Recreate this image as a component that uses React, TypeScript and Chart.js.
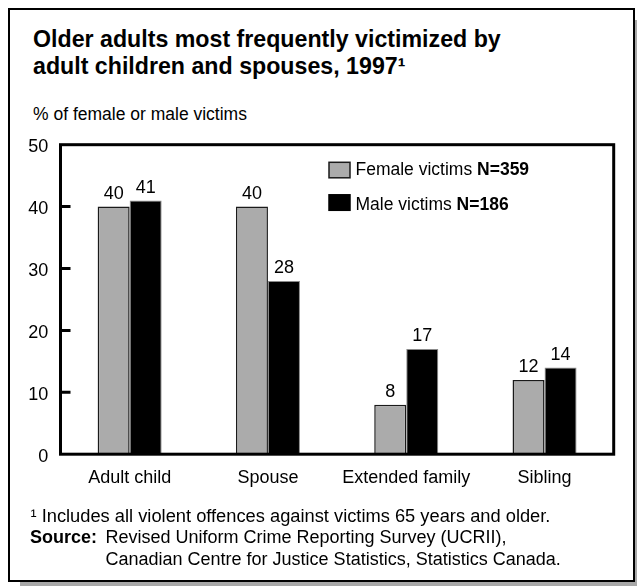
import React, { useEffect, useRef } from "react";
import { Chart, registerables } from "chart.js";

Chart.register(...registerables);

// Relationship of accused to victim
const categories = ["Adult child", "Spouse", "Extended family", "Sibling"];
// % of female / male victims
const femaleValues = [40, 40, 8, 12];
const maleValues = [41, 28, 17, 14];
const yTickValues = [0, 10, 20, 30, 40, 50];
const innerTickValues = [10, 20, 30, 40];

const femaleLabel = "Female victims";
const femaleN = "N=359";
const maleLabel = "Male victims";
const maleN = "N=186";

const titleLines = [
  "Older adults most frequently victimized by",
  "adult children and spouses, 1997\u00B9",
];
const subtitle = "% of female or male victims";
const footnote = "\u00B9 Includes all violent offences against victims 65 years and older.";
const sourceLabel = "Source:";
const sourceLines = [
  "Revised Uniform Crime Reporting Survey (UCRII),",
  "Canadian Centre for Justice Statistics, Statistics Canada.",
];

const FONT = '"Liberation Sans", Arial, Helvetica, sans-serif';
const W = 637;
const H = 586;
const FEMALE_FILL = "#ababab";
const MALE_FILL = "#000000";

// plot-area placement inside the canvas
const AREA = { left: 60.5, top: 144.7, right: 613.7, bottom: 454.2 };
const X_AXIS_H = 40;

const decorPlugin = {
  id: "decor",
  afterDatasetsDraw(chart: any) {
    const { ctx, chartArea, scales } = chart;
    const x = scales.x;
    const y = scales.y;
    ctx.save();

    // frame around the plot area
    ctx.strokeStyle = "#000";
    ctx.lineWidth = 3;
    ctx.strokeRect(
      chartArea.left,
      chartArea.top,
      chartArea.right - chartArea.left,
      chartArea.bottom - chartArea.top
    );

    // inward tick marks on the value axis
    ctx.beginPath();
    innerTickValues.forEach((v) => {
      const py = y.getPixelForValue(v);
      ctx.moveTo(chartArea.left, py);
      ctx.lineTo(chartArea.left + 10, py);
    });
    ctx.stroke();

    ctx.fillStyle = "#000";
    ctx.font = `18px ${FONT}`;
    ctx.textBaseline = "alphabetic";

    // value axis labels
    ctx.textAlign = "right";
    yTickValues.forEach((v) => {
      ctx.fillText(String(v), chartArea.left - 12.2, y.getPixelForValue(v) + 7.3);
    });

    // category labels
    ctx.textAlign = "center";
    categories.forEach((c, i) => {
      ctx.fillText(c, x.getPixelForValue(i), chartArea.bottom + 29);
    });

    // value labels above the bars
    chart.data.datasets.forEach((ds: any, di: number) => {
      const meta = chart.getDatasetMeta(di);
      meta.data.forEach((bar: any, i: number) => {
        ctx.fillText(String(ds.data[i]), bar.x, bar.y - 7.5);
      });
    });

    // legend
    const legendItems = [
      { fill: FEMALE_FILL, stroke: "#1a1a1a", label: femaleLabel, n: femaleN, boxTop: 162.3, base: 175.3 },
      { fill: MALE_FILL, stroke: "#000", label: maleLabel, n: maleN, boxTop: 194.8, base: 210.2 },
    ];
    ctx.textAlign = "left";
    legendItems.forEach((it) => {
      ctx.fillStyle = it.fill;
      ctx.fillRect(329, it.boxTop, 21, 15.5);
      ctx.strokeStyle = it.stroke;
      ctx.lineWidth = 1.5;
      ctx.strokeRect(329, it.boxTop, 21, 15.5);
      ctx.fillStyle = "#000";
      ctx.font = `17.5px ${FONT}`;
      const txt = it.label + " ";
      ctx.fillText(txt, 355.5, it.base);
      const w = ctx.measureText(txt).width;
      ctx.font = `bold 17.5px ${FONT}`;
      ctx.fillText(it.n, 355.5 + w, it.base);
    });

    ctx.restore();
  },
};

function ChartCanvas() {
  const ref = useRef<HTMLCanvasElement | null>(null);

  useEffect(() => {
    if (!ref.current) return;
    const chart = new Chart(ref.current, {
      type: "bar",
      data: {
        labels: categories,
        datasets: [
          {
            label: femaleLabel,
            data: femaleValues,
            backgroundColor: FEMALE_FILL,
            borderColor: "#1a1a1a",
            borderWidth: 1.5,
            categoryPercentage: 0.463,
            barPercentage: 1,
          },
          {
            label: maleLabel,
            data: maleValues,
            backgroundColor: MALE_FILL,
            borderColor: "#8a8a8a",
            borderWidth: 1,
            categoryPercentage: 0.463,
            barPercentage: 1,
          },
        ],
      },
      options: {
        responsive: false,
        animation: false,
        devicePixelRatio: 1,
        layout: {
          padding: {
            left: 0,
            top: AREA.top,
            right: W - AREA.right,
            bottom: H - AREA.bottom - X_AXIS_H,
          },
        },
        plugins: {
          legend: { display: false },
          tooltip: { enabled: false },
          title: { display: false },
        },
        scales: {
          x: {
            grid: { display: false, drawTicks: false },
            border: { display: false },
            ticks: { display: false },
            afterFit: (s: any) => {
              s.height = X_AXIS_H;
            },
          },
          y: {
            min: 0,
            max: 50,
            grid: { display: false, drawTicks: false },
            border: { display: false },
            ticks: { display: false, stepSize: 10 },
            afterFit: (s: any) => {
              s.width = AREA.left;
            },
          },
        },
      },
      plugins: [decorPlugin],
    });
    return () => chart.destroy();
  }, []);

  return (
    <canvas
      ref={ref}
      width={W}
      height={H}
      style={{ position: "absolute", left: 0, top: 0, width: W, height: H }}
    />
  );
}

const textBase: React.CSSProperties = {
  position: "absolute",
  lineHeight: 1,
  whiteSpace: "nowrap",
  margin: 0,
  color: "#000",
  fontFamily: FONT,
};

export default function App() {
  return (
    <div style={{ position: "absolute", left: 0, top: 0, width: W, height: H, background: "#fff" }}>
      {/* drop shadow */}
      <div style={{ position: "absolute", left: 20, top: 20, width: 617, height: 565.5, background: "#a8a8a8" }} />
      {/* panel */}
      <div
        style={{
          position: "absolute",
          left: 8,
          top: 8,
          width: 627.3,
          height: 574.3,
          boxSizing: "border-box",
          border: "2.3px solid #000",
          background: "#fff",
        }}
      />
      <div style={{ ...textBase, left: 33, top: 27.8, fontSize: 23.2, fontWeight: "bold" }}>{titleLines[0]}</div>
      <div style={{ ...textBase, left: 33, top: 54.6, fontSize: 23.2, fontWeight: "bold" }}>{titleLines[1]}</div>
      <div style={{ ...textBase, left: 33, top: 106.4, fontSize: 17.5 }}>{subtitle}</div>
      <ChartCanvas />
      <div style={{ ...textBase, left: 30.5, top: 506.5, fontSize: 18.3 }}>{footnote}</div>
      <div style={{ ...textBase, left: 30, top: 528, fontSize: 18, fontWeight: "bold" }}>{sourceLabel}</div>
      <div style={{ ...textBase, left: 105.5, top: 528, fontSize: 18 }}>{sourceLines[0]}</div>
      <div style={{ ...textBase, left: 105.5, top: 549.8, fontSize: 18 }}>{sourceLines[1]}</div>
    </div>
  );
}
